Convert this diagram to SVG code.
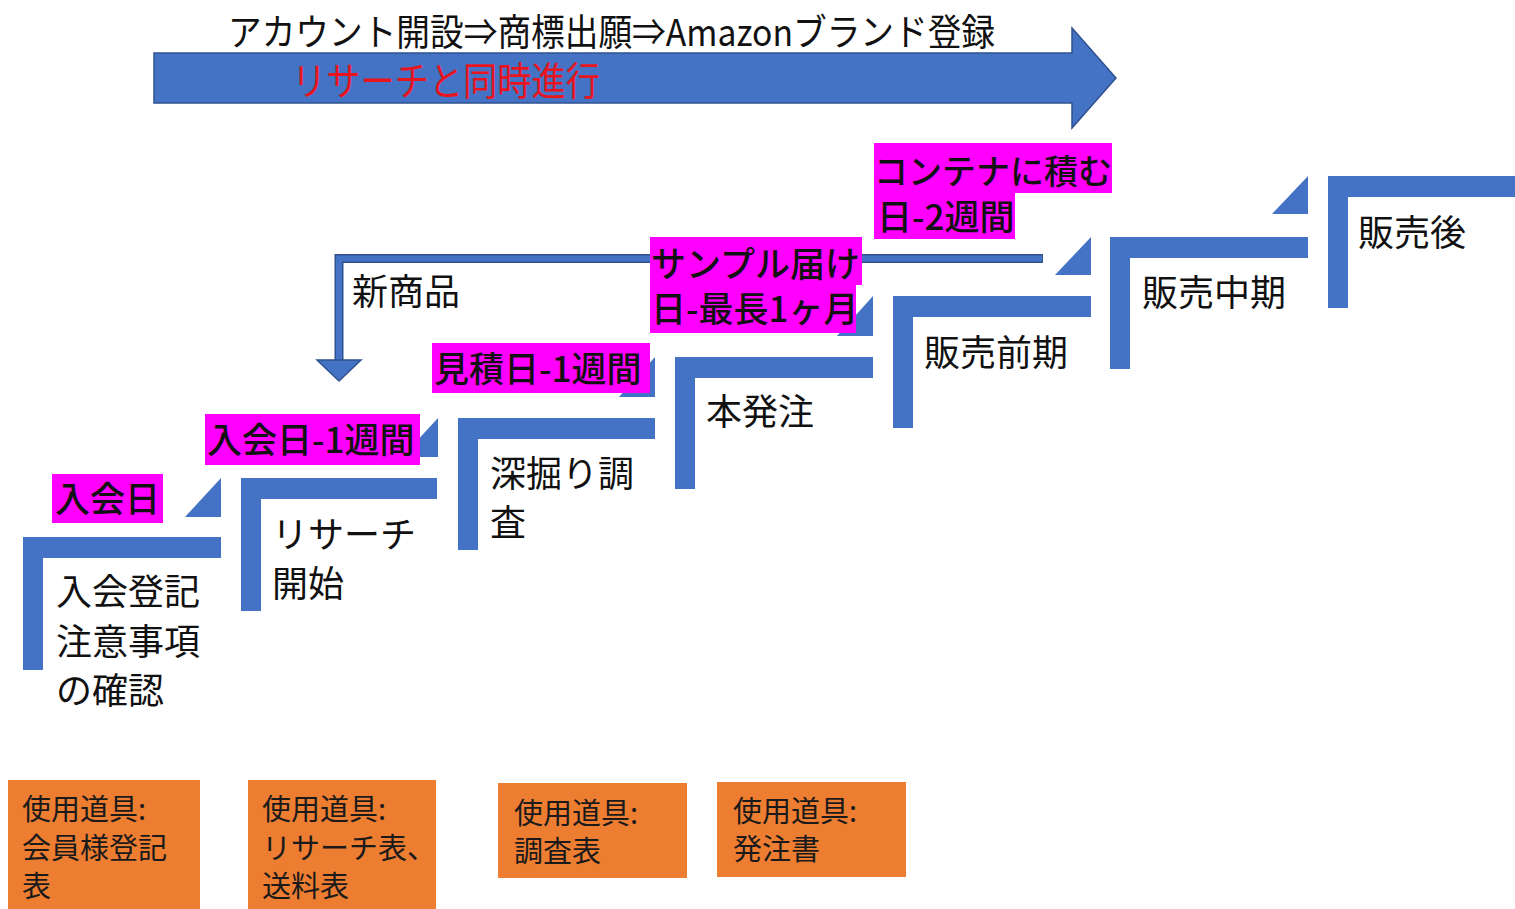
<svg xmlns="http://www.w3.org/2000/svg" width="1515" height="909" viewBox="0 0 1515 909">
<style>
.blue{fill:#4472C4}
.t{font-family:"Noto Sans CJK JP","Noto Sans",sans-serif;fill:#111}
.step{font-size:36px}
.mag{fill:#FF00FF}
.ml{font-size:35px;fill:#111;font-weight:500}
.org{fill:#ED7D31}
.ot{font-size:29px;fill:#1a1a1a}
</style>
<rect width="1515" height="909" fill="#fff"/>
<g id="top-arrow">
<polygon points="154,53 1072,53 1072,28 1116,78 1072,128 1072,103 154,103" fill="#4472C4" stroke="#2F528F" stroke-width="1.5"/>
<text class="t" x="228" y="46" font-size="37" textLength="767" lengthAdjust="spacingAndGlyphs">アカウント開設⇒商標出願⇒Amazonブランド登録</text>
<text class="t" x="292" y="95" font-size="39" style="fill:#E8141E" textLength="308" lengthAdjust="spacingAndGlyphs">リサーチと同時進行</text>
</g>
<g id="connectors">
<polyline points="1043,258.5 339,258.5 339,362" fill="none" stroke="#2F528F" stroke-width="9"/>
<polyline points="1042,258.5 339,258.5 339,362" fill="none" stroke="#4472C4" stroke-width="6"/>
<polygon points="317,360 361,360 339,381" fill="#4472C4" stroke="#2F528F" stroke-width="1.5"/>
</g>
<g id="step1">
<path class="blue" d="M23,537 H221 V558 H43 V670 H23 Z"/>
<polygon class="blue" points="221,478 221,517 185,517"/>
<text class="t step" x="56" y="605">入会登記</text>
<text class="t step" x="56" y="655">注意事項</text>
<text class="t step" x="56" y="704">の確認</text>
</g>
<g id="step2">
<path class="blue" d="M241,478 H437 V499 H261 V611 H241 Z"/>
<polygon class="blue" points="438,418 438,457 402,457"/>
<text class="t step" x="272" y="548">リサーチ</text>
<text class="t step" x="272" y="597">開始</text>
</g>
<g id="step3">
<path class="blue" d="M458,418 H655 V439 H478 V550 H458 Z"/>
<polygon class="blue" points="655,357 655,397 619,397"/>
<text class="t step" x="490" y="487">深掘り調</text>
<text class="t step" x="490" y="536">査</text>
</g>
<g id="step4">
<path class="blue" d="M675,357 H873 V378 H695 V489 H675 Z"/>
<polygon class="blue" points="873,296 873,336 837,336"/>
<text class="t step" x="706" y="425">本発注</text>
</g>
<g id="step5">
<path class="blue" d="M893,296 H1091 V317 H913 V428 H893 Z"/>
<polygon class="blue" points="1091,237 1091,275 1055,275"/>
<text class="t step" x="924" y="366">販売前期</text>
</g>
<g id="step6">
<path class="blue" d="M1110,237 H1308 V258 H1130 V369 H1110 Z"/>
<polygon class="blue" points="1308,176 1308,214 1272,214"/>
<text class="t step" x="1142" y="306">販売中期</text>
</g>
<g id="step7">
<path class="blue" d="M1328,176 H1515 V197 H1348 V308 H1328 Z"/>
<text class="t step" x="1358" y="246">販売後</text>
</g>
<g id="label-nyukaibi">
<rect class="mag" x="52" y="474" width="111" height="49"/>
<text class="t ml" x="55" y="512">入会日</text>
</g>
<g id="label-nyukaibi-1w">
<rect class="mag" x="205" y="414" width="215" height="51"/>
<text class="t ml" x="207" y="453">入会日-1週間</text>
</g>
<g id="label-mitsumori">
<rect class="mag" x="432" y="343" width="218" height="50"/>
<text class="t ml" x="434" y="382">見積日-1週間</text>
</g>
<g id="label-sample">
<rect class="mag" x="650" y="237" width="212" height="48"/>
<rect class="mag" x="650" y="285" width="206" height="48"/>
<text class="t ml" x="651" y="277">サンプル届け</text>
<text class="t ml" x="651" y="322">日-最長1ヶ月</text>
</g>
<g id="label-container">
<rect class="mag" x="874" y="143" width="238" height="50"/>
<rect class="mag" x="874" y="193" width="141" height="46"/>
<text class="t ml" x="874" y="184" style="font-size:34px">コンテナに積む</text>
<text class="t ml" x="877" y="230">日-2週間</text>
</g>
<g id="shin-shohin">
<text class="t step" x="352" y="305">新商品</text>
</g>
<g id="tool1">
<rect class="org" x="8" y="780" width="192" height="129"/>
<text class="t ot" x="22" y="820">使用道具:</text>
<text class="t ot" x="22" y="859">会員様登記</text>
<text class="t ot" x="22" y="897">表</text>
</g>
<g id="tool2">
<rect class="org" x="248" y="780" width="188" height="129"/>
<text class="t ot" x="262" y="820">使用道具:</text>
<text class="t ot" x="262" y="859">リサーチ表、</text>
<text class="t ot" x="262" y="897">送料表</text>
</g>
<g id="tool3">
<rect class="org" x="498" y="783" width="189" height="95"/>
<text class="t ot" x="514" y="824">使用道具:</text>
<text class="t ot" x="514" y="862">調査表</text>
</g>
<g id="tool4">
<rect class="org" x="717" y="782" width="189" height="95"/>
<text class="t ot" x="733" y="822">使用道具:</text>
<text class="t ot" x="733" y="860">発注書</text>
</g>
</svg>
